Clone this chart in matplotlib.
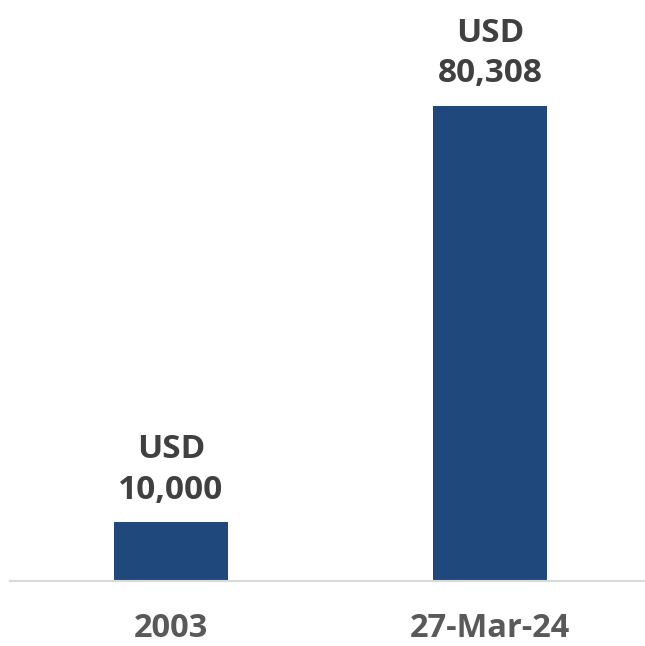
import matplotlib
matplotlib.use("Agg")
import matplotlib.pyplot as plt

# data
categories = ["2003", "27-Mar-24"]
values = [10000, 80308]
labels = ["USD\n10,000", "USD\n80,308"]

plt.rcParams['font.family'] = ['Open Sans', 'DejaVu Sans']

fig = plt.figure(figsize=(6.45, 6.46), dpi=100)
ax = fig.add_axes([10 / 645, 65 / 646, 635 / 645, 0.83])

x = list(range(len(categories)))
bars = ax.bar(x, values, width=0.357, color="#1F497D")

for xi, v, lab in zip(x, values, labels):
    ax.annotate(lab, (xi, v), xytext=(0, 11), textcoords="offset points",
                ha="center", va="bottom", fontsize=24, fontweight="bold",
                color="#404040", linespacing=1.3)

ax.set_xlim(-0.505, 1.486)
ax.set_ylim(0, 90600)
ax.set_xticks(x)
ax.set_xticklabels(categories, fontsize=23.5, fontweight="bold", color="#595959")
ax.tick_params(axis="x", length=0, pad=22)
ax.set_yticks([])
for s in ["top", "right", "left"]:
    ax.spines[s].set_visible(False)
ax.spines["bottom"].set_color("#D9D9D9")
ax.spines["bottom"].set_linewidth(1.5)

fig.savefig("out.png", dpi=100)
